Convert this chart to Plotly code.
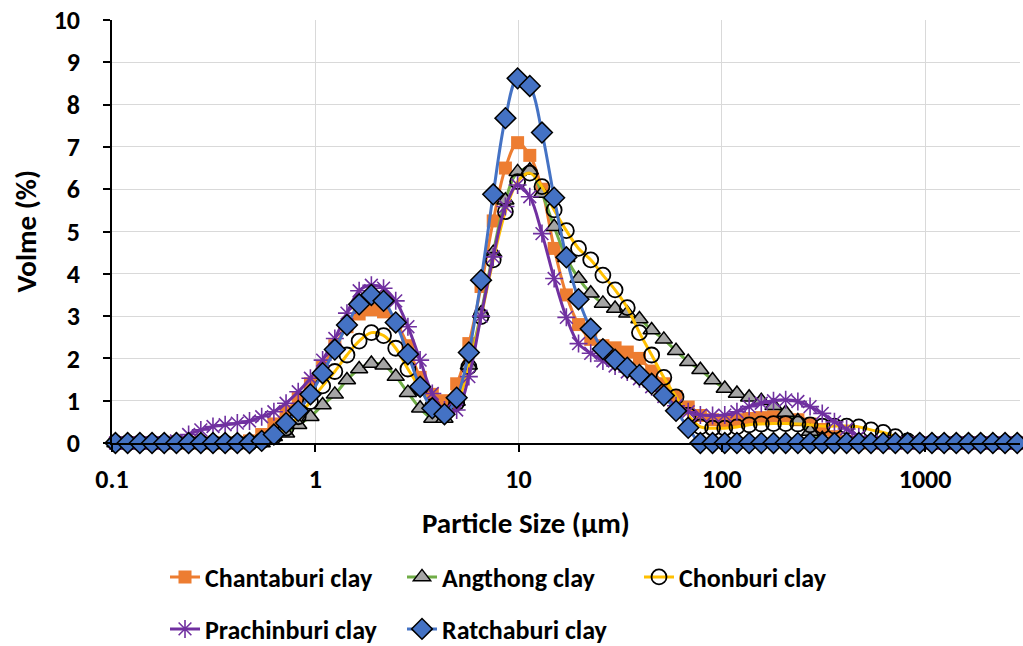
import plotly.graph_objects as go

# Particle size classes (µm)
sizes = [0.1040, 0.1194, 0.1371, 0.1574, 0.1807, 0.2075, 0.2382, 0.2735, 0.3139, 0.3603,
         0.4136, 0.4748, 0.5450, 0.6257, 0.7183, 0.8245, 0.9467, 1.087, 1.248, 1.432,
         1.644, 1.888, 2.167, 2.488, 2.856, 3.280, 3.765, 4.322, 4.962, 5.696,
         6.539, 7.507, 8.618, 9.894, 11.36, 13.04, 14.97, 17.19, 19.73, 22.65,
         26.00, 29.85, 34.27, 39.34, 45.17, 51.85, 59.53, 68.34, 78.45, 90.07,
         103.4, 118.7, 136.3, 156.4, 179.6, 206.2, 236.7, 271.8, 312.0, 358.2,
         411.2, 472.1, 542.0, 622.2, 714.3, 820.1, 941.3, 1081, 1241, 1424,
         1635, 1877, 2155, 2474, 2840]

chantaburi = [0, 0, 0, 0, 0, 0, 0, 0, 0, 0,
              0, 0.05, 0.2, 0.45, 0.75, 1.05, 1.4, 1.8, 2.3, 2.75,
              3.05, 3.15, 3.1, 2.85, 2.3, 1.55, 1.15, 1.0, 1.4, 2.35,
              3.7, 5.25, 6.5, 7.1, 6.8, 6.0, 4.6, 3.5, 2.8, 2.45,
              2.3, 2.25, 2.15, 2.0, 1.7, 1.4, 1.1, 0.85, 0.65, 0.55,
              0.52, 0.55, 0.58, 0.6, 0.62, 0.6, 0.55, 0.45, 0.32, 0.15,
              0.03, 0, 0, 0, 0, 0, 0, 0, 0, 0,
              0, 0, 0, 0, 0]

angthong = [0, 0, 0, 0, 0, 0, 0, 0, 0, 0,
            0, 0, 0, 0.15, 0.23, 0.43, 0.62, 0.9, 1.15, 1.49,
            1.75, 1.88, 1.84, 1.57, 1.19, 0.82, 0.58, 0.58, 0.98, 1.84,
            3.07, 4.5, 5.74, 6.41, 6.45, 5.9, 5.11, 4.38, 3.89, 3.54,
            3.30, 3.18, 3.07, 2.93, 2.67, 2.45, 2.18, 1.92, 1.73, 1.49,
            1.29, 1.17, 1.08, 1.0, 0.88, 0.72, 0.52, 0.27, 0.1, 0,
            0, 0, 0, 0, 0, 0, 0, 0, 0, 0,
            0, 0, 0, 0, 0]

chonburi = [0, 0, 0, 0, 0, 0, 0, 0, 0, 0,
            0, 0, 0.05, 0.15, 0.35, 0.62, 0.98, 1.35, 1.69, 2.08,
            2.41, 2.61, 2.54, 2.24, 1.75, 1.3, 0.86, 0.7, 0.95, 1.8,
            2.99, 4.33, 5.47, 6.18, 6.38, 6.06, 5.51, 5.02, 4.6, 4.33,
            3.97, 3.62, 3.2, 2.61, 2.08, 1.55, 1.09, 0.66, 0.38, 0.35,
            0.35, 0.38, 0.43, 0.45, 0.46, 0.46, 0.45, 0.43, 0.4, 0.4,
            0.4, 0.38, 0.31, 0.25, 0.15, 0.05, 0, 0, 0, 0,
            0, 0, 0, 0, 0]

prachinburi = [0, 0, 0, 0, 0, 0.05, 0.2, 0.31, 0.39, 0.43,
               0.47, 0.52, 0.62, 0.74, 0.94, 1.21, 1.53, 1.96, 2.47, 3.07,
               3.6, 3.73, 3.66, 3.36, 2.75, 1.96, 1.17, 0.78, 0.78, 1.57,
               3.0, 4.4, 5.59, 6.1, 5.82, 4.95, 3.89, 2.97, 2.35, 2.12,
               1.94, 1.82, 1.68, 1.52, 1.33, 1.1, 0.88, 0.74, 0.66, 0.65,
               0.66, 0.74, 0.86, 0.94, 1.0, 1.02, 0.98, 0.86, 0.7, 0.5,
               0.33, 0.15, 0.03, 0, 0, 0, 0, 0, 0, 0,
               0, 0, 0, 0, 0]

ratchaburi = [0, 0, 0, 0, 0, 0, 0, 0, 0, 0,
              0, 0, 0.05, 0.2, 0.47, 0.76, 1.15, 1.65, 2.21, 2.79,
              3.28, 3.5, 3.36, 2.85, 2.1, 1.33, 0.82, 0.68, 1.07, 2.14,
              3.85, 5.88, 7.68, 8.62, 8.44, 7.34, 5.8, 4.39, 3.4, 2.7,
              2.22, 1.97, 1.78, 1.61, 1.4, 1.12, 0.76, 0.36, 0, 0,
              0, 0, 0, 0, 0, 0, 0, 0, 0, 0,
              0, 0, 0, 0, 0, 0, 0, 0, 0, 0,
              0, 0, 0, 0, 0]

x_ticks = [0.1, 1, 10, 100, 1000]
x_tick_labels = ["0.1", "1", "10", "100", "1000"]
y_ticks = list(range(0, 11))

FONT = "Carlito, Lato, sans-serif"
TICK_SIZE = 26
TITLE_SIZE = 29
LEGEND_SIZE = 26

fig = go.Figure()

def add(name, y, line_color, symbol, mcolor, mline_color, mline_w, size, legend):
    fig.add_trace(go.Scatter(
        x=sizes, y=y, name=name, mode="lines+markers",
        line=dict(color=line_color, width=3, shape="spline", smoothing=1),
        marker=dict(symbol=symbol, color=mcolor, size=size,
                    line=dict(color=mline_color, width=mline_w)),
        cliponaxis=False, legend=legend,
    ))

add("Chantaburi clay", chantaburi, "#ED7D31", "square", "#ED7D31", "#ED7D31", 0, 13, "legend")
add("Angthong clay", angthong, "#70AD47", "triangle-up", "#A5A5A5", "black", 1.5, 15, "legend")
add("Chonburi clay", chonburi, "#FFC000", "circle-open", "black", "black", 1.8, 15, "legend")
add("Prachinburi clay", prachinburi, "#7030A0", "asterisk-open", "#7030A0", "#7030A0", 1.6, 15, "legend2")
add("Ratchaburi clay", ratchaburi, "#4472C4", "diamond", "#4472C4", "black", 1.5, 16, "legend2")

legend_common = dict(orientation="h", xanchor="left", yanchor="middle",
                     xref="container", yref="container",
                     font=dict(family=FONT, size=LEGEND_SIZE, color="black", weight="bold"),
                     entrywidth=192, entrywidthmode="pixels", bgcolor="rgba(0,0,0,0)")

fig.update_layout(
    width=1023, height=646,
    margin=dict(l=112, r=3, t=20, b=203, autoexpand=False),
    paper_bgcolor="white", plot_bgcolor="white",
    font=dict(family=FONT, size=TICK_SIZE, color="black", weight="bold"),
    showlegend=True,
    legend=dict(x=165 / 1023, y=1 - 577 / 646, **legend_common),
    legend2=dict(x=165 / 1023, y=1 - 629 / 646, **legend_common),
    xaxis=dict(type="log", range=[-1, 3.467], tickvals=x_ticks, ticktext=x_tick_labels,
               showgrid=True, gridcolor="#D9D9D9", gridwidth=1.3,
               showline=True, linecolor="black", linewidth=1.5,
               ticks="outside", ticklen=7, tickcolor="black", tickwidth=1.5,
               ticklabelstandoff=5,
               tickfont=dict(family=FONT, size=TICK_SIZE, color="black", weight="bold"),
               zeroline=False),
    yaxis=dict(range=[0, 10], tickvals=y_ticks,
               showgrid=True, gridcolor="#D9D9D9", gridwidth=1.3,
               showline=True, linecolor="black", linewidth=1.5,
               ticks="outside", ticklen=7, tickcolor="black", tickwidth=1.5,
               ticklabelstandoff=18,
               tickfont=dict(family=FONT, size=TICK_SIZE, color="black", weight="bold"),
               zeroline=False),
    annotations=[
        dict(text="Particle Size (µm)", xref="paper", yref="paper", x=0.456, y=-0.189,
             xanchor="center", yanchor="middle", showarrow=False,
             font=dict(family=FONT, size=TITLE_SIZE, color="black", weight="bold")),
        dict(text="Volme (%)", xref="paper", yref="paper", x=-0.0958, y=0.5,
             xanchor="center", yanchor="middle", showarrow=False, textangle=-90,
             font=dict(family=FONT, size=TITLE_SIZE, color="black", weight="bold")),
    ],
)

fig.write_html("out.html")
